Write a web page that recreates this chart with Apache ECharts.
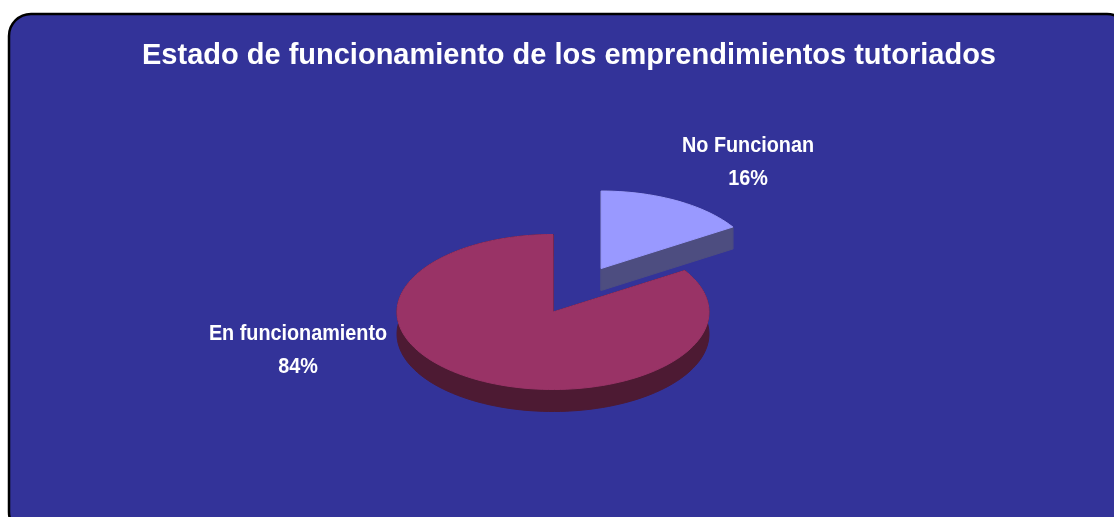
<!DOCTYPE html>
<html>
<head>
<meta charset="utf-8">
<script src="https://cdn.jsdelivr.net/npm/echarts@6/dist/echarts.min.js"></script>
<style>
  html, body { margin: 0; padding: 0; background: #fff; }
  #chart { width: 1114px; height: 517px; }
</style>
</head>
<body>
<div id="chart"></div>
<script>
// datos del gráfico
const categories = ['No Funcionan', 'En funcionamiento'];
const values = [16, 84];
const sliceColors = ['#9999ff', '#993366'];
const sideColors = ['#4d4d80', '#4d1a33'];
const explode = [0.64, 0];

const total = values.reduce((a, b) => a + b, 0);

// geometría de la torta 3D
let cx = 553, cy = 312, rx = 156, ry = 77.5, depth = 22;
// posición de etiquetas relativa al centro
let labelOffset = [[195, -183], [-255, 5]];

function pt(theta, ox, oy) {
  return [ox + rx * Math.sin(theta), oy - ry * Math.cos(theta)];
}

function renderSlice(params, api) {
  const i = params.dataIndex;
  const v = api.value(0);
  let before = 0;
  for (let k = 0; k < i; k++) before += values[k];
  const a0 = before / total * Math.PI * 2;
  const a1 = (before + v) / total * Math.PI * 2;
  const mid = (a0 + a1) / 2;
  const ox = cx + rx * Math.sin(mid) * explode[i];
  const oy = cy - ry * Math.cos(mid) * explode[i];

  const arc = [];
  const steps = Math.max(8, Math.round((a1 - a0) / (Math.PI * 2) * 160));
  for (let s = 0; s <= steps; s++) {
    arc.push(pt(a0 + (a1 - a0) * s / steps, ox, oy));
  }
  const top = [[ox, oy]].concat(arc);
  const down = p => [p[0], p[1] + depth];
  const side = { fill: sideColors[i], stroke: sideColors[i], lineWidth: 1 };

  const children = [];
  // pared exterior (banda del arco)
  children.push({
    type: 'polygon',
    shape: { points: arc.concat(arc.slice().reverse().map(down)) },
    style: side
  });
  // caras de corte
  const c = [ox, oy], p0 = arc[0], p1 = arc[arc.length - 1];
  children.push({ type: 'polygon', shape: { points: [c, p0, down(p0), down(c)] }, style: side });
  children.push({ type: 'polygon', shape: { points: [c, p1, down(p1), down(c)] }, style: side });
  // cara superior
  children.push({
    type: 'polygon',
    shape: { points: top },
    style: { fill: sliceColors[i], stroke: sliceColors[i], lineWidth: 1 }
  });
  // etiqueta
  const pct = Math.round(v / total * 100) + '%';
  children.push({
    type: 'text',
    x: cx + labelOffset[i][0],
    y: cy + labelOffset[i][1],
    scaleX: 0.9,
    style: {
      text: categories[i] + '\n' + pct,
      fill: '#ffffff',
      font: 'bold 22px "Liberation Sans", Arial, sans-serif',
      lineHeight: 33,
      align: 'center',
      verticalAlign: 'top'
    }
  });
  return { type: 'group', children: children };
}

const chart = echarts.init(document.getElementById('chart'));
chart.setOption({
  backgroundColor: '#ffffff',
  animation: false,
  graphic: [{
    type: 'rect',
    z: -10,
    shape: { x: 9, y: 14, width: 1120, height: 520, r: 22 },
    style: { fill: '#333399', stroke: '#000000', lineWidth: 2.5 }
  }],
  title: {
    text: 'Estado de funcionamiento de los emprendimientos tutoriados',
    left: 137,
    top: 36,
    textStyle: {
      color: '#ffffff',
      fontSize: 29,
      fontWeight: 'bold',
      fontFamily: '"Liberation Sans", Arial, sans-serif'
    }
  },
  series: [{
    type: 'custom',
    coordinateSystem: 'none',
    renderItem: renderSlice,
    data: values.map((v, i) => ({ name: categories[i], value: v }))
  }]
});
</script>
</body>
</html>
